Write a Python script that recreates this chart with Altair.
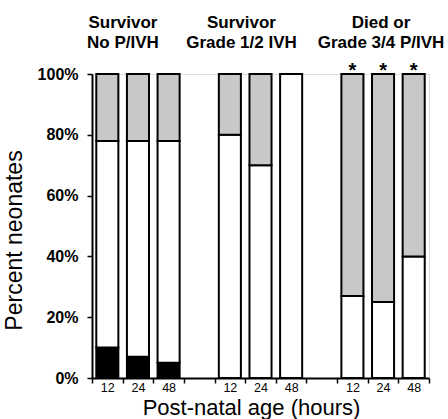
import altair as alt
import pandas as pd

# ---- data ----
group_titles = ["Survivor\nNo P/IVH", "Survivor\nGrade 1/2 IVH", "Died or\nGrade 3/4 P/IVH"]
group_keys = ["a", "b", "c"]
hours = ["12", "24", "48"]
# percent of neonates per bar (bottom -> top segments)
black_pct = [10, 7, 5, 0, 0, 0, 0, 0, 0]
white_pct = [68, 71, 73, 80, 70, 100, 27, 25, 40]
gray_pct = [22, 22, 22, 20, 30, 0, 73, 75, 60]
starred = [False, False, False, False, False, False, True, True, True]
y_ticks = [0, 20, 40, 60, 80, 100]

# slot domain (with empty gap slots between groups)
slots = []
for gi, g in enumerate(group_keys):
    for h in hours:
        slots.append(f"{g}|{h}")
    if gi < len(group_keys) - 1:
        slots.append(f"gap{gi}|")

bar_slots = [f"{g}|{h}" for g in group_keys for h in hours]

rows = []
for i, s in enumerate(bar_slots):
    base = 0
    for seg, vals in (("black", black_pct), ("white", white_pct), ("gray", gray_pct)):
        v = vals[i]
        if v > 0:
            rows.append({"slot": s, "seg": seg, "y0": base, "y1": base + v})
        base += v
df = pd.DataFrame(rows)
stars = pd.DataFrame({"slot": [s for s, st in zip(bar_slots, starred) if st]})

FONT = "Liberation Sans"
W, H = 337, 304

x_enc = alt.X(
    "slot:N",
    scale=alt.Scale(domain=slots, paddingInner=0, paddingOuter=0),
    sort=slots,
    axis=alt.Axis(
        title="Post-natal age (hours)",
        labelExpr="split(datum.label, '|')[1]",
        ticks=True,
        tickBand="extent",
        labelAngle=0,
        labelFontSize=12.5,
        labelColor="black",
        labelPadding=-2,
        titleFontSize=22,
        titleFontWeight="normal",
        titleColor="black",
        titleX=159,
        titleY=36,
        titleAlign="center",
        titleBaseline="alphabetic",
        domainColor="black",
        domainWidth=2,
        tickColor="black",
        tickWidth=1.5,
        tickSize=5,
    ),
)

bars = alt.Chart(df).mark_bar(
    stroke="black", strokeWidth=2, width=alt.RelativeBandSize(0.72)
).encode(
    x=x_enc,
    y=alt.Y(
        "y0:Q",
        scale=alt.Scale(domain=[0, 100], nice=False),
        axis=alt.Axis(
            values=y_ticks,
            labelExpr="datum.value + '%'",
            labelFontSize=16,
            labelFontWeight="bold",
            labelColor="black",
            labelPadding=9,
            title="Percent neonates",
            titleFontSize=23,
            titleFontWeight="normal",
            titleColor="black",
            titleX=-71,
            titleY=166,
            titleAngle=270,
            titleAlign="center",
            titleBaseline="alphabetic",
            grid=False,
            domainColor="black",
            domainWidth=2,
            tickColor="black",
            tickWidth=1.5,
            tickSize=5,
        ),
    ),
    y2="y1:Q",
    color=alt.Color(
        "seg:N",
        scale=alt.Scale(domain=["black", "white", "gray"], range=["#000000", "#ffffff", "#c8c8c8"]),
        legend=None,
    ),
)

star_layer = alt.Chart(stars).mark_text(
    text="*", fontSize=20, fontWeight="bold", baseline="alphabetic", dy=3, color="black", font=FONT
).encode(x=alt.X("slot:N", sort=slots), y=alt.datum(100))

header_dx = [-15, -19, -2]
header_layers = []
for gi, (gk, title) in enumerate(zip(group_keys, group_titles)):
    hdf = pd.DataFrame({"slot": [f"{gk}|24"], "label": [title]})
    header_layers.append(
        alt.Chart(hdf).mark_text(
            lineBreak="\n", fontSize=17, fontWeight="bold", lineHeight=20,
            baseline="alphabetic", align="center", dx=header_dx[gi], color="black", font=FONT
        ).encode(x=alt.X("slot:N", sort=slots), y=alt.value(-46), text="label:N")
    )

chart = alt.layer(bars, star_layer, *header_layers).properties(
    width=W,
    height=H,
    autosize=alt.AutoSizeParams(type="none"),
    padding={"left": 92, "top": 74, "right": 19, "bottom": 41},
).configure_view(stroke=None).configure(font=FONT, background="white")

chart.save("out.html", embed_options={"renderer": "svg", "actions": False})
